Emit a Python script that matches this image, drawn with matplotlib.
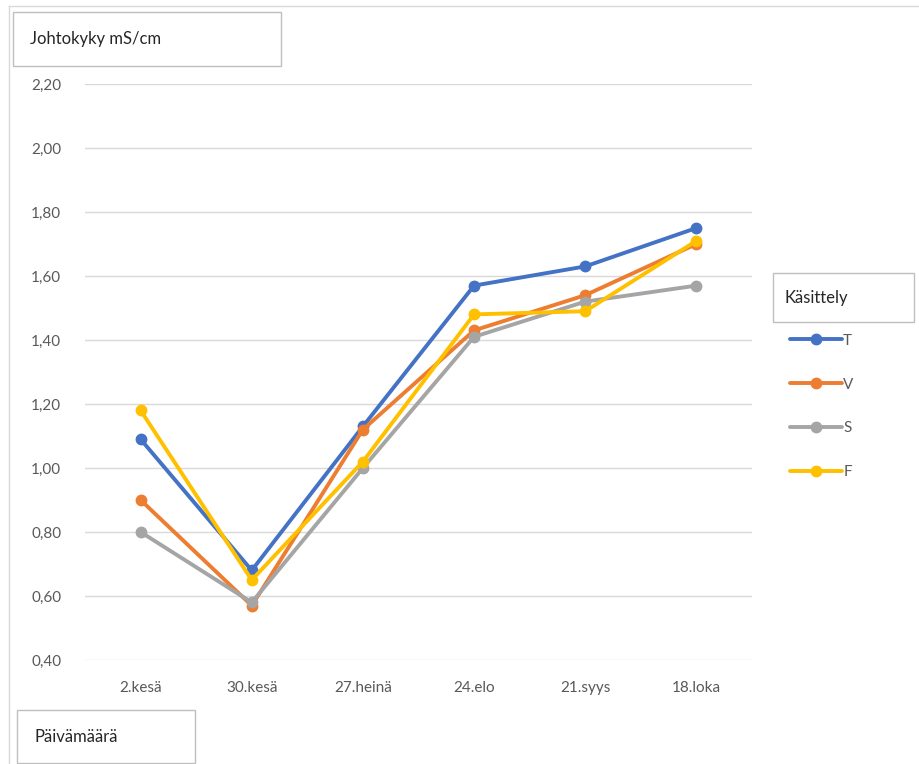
import matplotlib
matplotlib.use("Agg")
import matplotlib.pyplot as plt
from matplotlib.patches import Rectangle
from matplotlib.lines import Line2D
from matplotlib.ticker import FuncFormatter, MultipleLocator

# Conductivity (mS/cm) per sampling date and treatment
dates = ["2.kesä", "30.kesä", "27.heinä", "24.elo", "21.syys", "18.loka"]
T = [1.09, 0.68, 1.13, 1.57, 1.63, 1.75]
V = [0.90, 0.57, 1.12, 1.43, 1.54, 1.70]
S = [0.80, 0.58, 1.00, 1.41, 1.52, 1.57]
F = [1.18, 0.65, 1.02, 1.48, 1.49, 1.71]
series = [("T", T, "#4472C4"), ("V", V, "#ED7D31"), ("S", S, "#A5A5A5"), ("F", F, "#FFC000")]

W, H = 920, 764
TXT = "#595959"
GRID = "#D9D9D9"
plt.rcParams["font.family"] = ["Lato", "DejaVu Sans"]

fig = plt.figure(figsize=(W / 100, H / 100), dpi=100)
ax = fig.add_axes([85 / W, 1 - 660 / H, (752 - 85) / W, (660 - 84) / H])

x = list(range(len(dates)))
for name, vals, col in series:
    ax.plot(x, vals, color=col, lw=2.8, marker="o", ms=7.5, label=name, solid_capstyle="round")

ax.set_xlim(-0.5, len(dates) - 0.5)
ax.set_ylim(0.40, 2.20)
ax.yaxis.set_major_locator(MultipleLocator(0.20))
ax.yaxis.set_major_formatter(FuncFormatter(lambda v, p: f"{v:.2f}".replace(".", ",")))
ax.set_xticks(x)
ax.set_xticklabels(dates)
ax.grid(axis="y", color=GRID, lw=1)
ax.set_axisbelow(True)
for s in ax.spines.values():
    s.set_visible(False)
ax.tick_params(axis="both", length=0, labelsize=11, colors=TXT)
ax.tick_params(axis="y", pad=17)
ax.tick_params(axis="x", pad=15)

# chart frame (top and left edges)
fig.add_artist(Line2D([9 / W, 1], [1 - 6 / H, 1 - 6 / H], color=GRID, lw=1))
fig.add_artist(Line2D([9 / W, 9 / W], [0, 1 - 6 / H], color=GRID, lw=1))

# axis title boxes
def boxed(x0, y0, x1, y1, text, tx):
    fig.add_artist(Rectangle((x0 / W, 1 - y1 / H), (x1 - x0) / W, (y1 - y0) / H,
                             transform=fig.transFigure, fill=True, facecolor="white",
                             edgecolor="#BFBFBF", lw=1))
    fig.text(tx / W, 1 - (y0 + y1) / 2 / H, text, fontsize=12, color="#262626",
             va="center", ha="left")

boxed(13, 12, 281, 66, "Johtokyky mS/cm", 30)
boxed(17, 710, 195, 763, "Päivämäärä", 34)
boxed(773, 273, 914, 322, "Käsittely", 785)

leg = fig.legend(loc="upper left", bbox_to_anchor=(776 / W, 1 - 320 / H), frameon=False,
                 fontsize=11, handlelength=3.4, handletextpad=0.1, labelspacing=1.95,
                 labelcolor=TXT)

fig.savefig("out.png", dpi=100)
